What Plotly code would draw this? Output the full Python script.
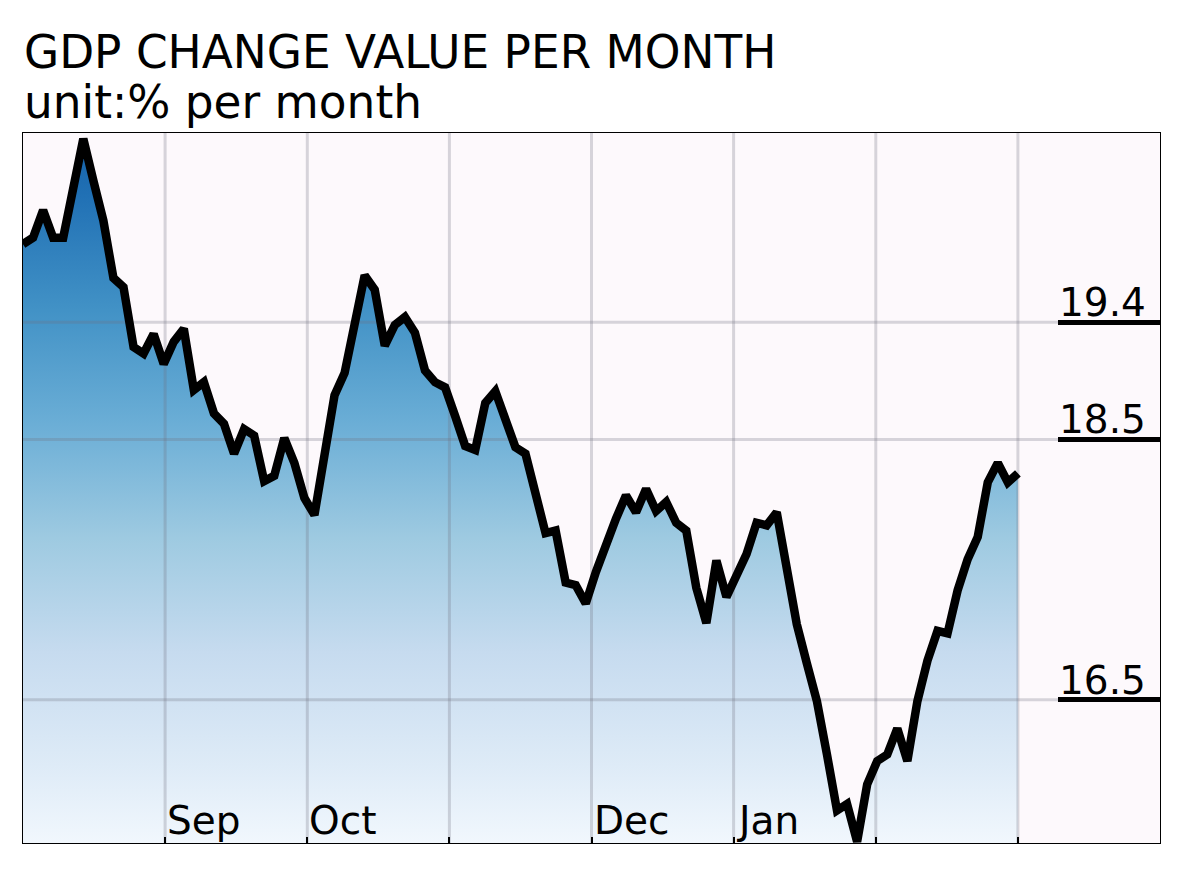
import plotly.graph_objects as go

# ---- data ----
values = [
    20.00, 20.05, 20.26, 20.05, 20.05, 20.44, 20.81, 20.49, 20.18, 19.74,
    19.67, 19.21, 19.16, 19.31, 19.08, 19.25, 19.35, 18.88, 18.94, 18.70,
    18.62, 18.39, 18.58, 18.53, 18.18, 18.22, 18.51, 18.32, 18.05, 17.92,
    18.42, 18.84, 19.01, 19.38, 19.76, 19.65, 19.22, 19.38, 19.44, 19.32,
    19.03, 18.94, 18.90, 18.68, 18.45, 18.42, 18.78, 18.87, 18.65, 18.44,
    18.39, 18.09, 17.78, 17.80, 17.40, 17.38, 17.24, 17.48, 17.71, 17.89,
    18.07, 17.94, 18.12, 17.95, 18.02, 17.86, 17.80, 17.36, 17.09, 17.57,
    17.29, 17.44, 17.62, 17.86, 17.84, 17.94, 17.51, 17.08, 16.78, 16.49,
    16.08, 15.65, 15.70, 15.41, 15.85, 16.03, 16.08, 16.28, 16.03, 16.49,
    16.80, 17.03, 17.01, 17.34, 17.58, 17.75, 18.17, 18.32, 18.17, 18.24,
]
x_index = list(range(len(values)))

x_tick_vals = [14.14, 28.29, 42.43, 56.57, 70.71, 84.86, 99.0]
x_tick_text = ["Sep", "Oct", "", "Dec", "Jan", "", ""]
y_tick_vals = [16.5, 18.5, 19.4]
y_tick_text = ["16.5", "18.5", "19.4"]

title_line1 = "GDP CHANGE VALUE PER MONTH"
title_line2 = "unit:% per month"

X_RANGE = [0, 113.14]
Y_RANGE = [15.4, 20.854]

FONT = "DejaVu Sans"

# gradient like matplotlib "Blues", light at bottom -> dark at top
blues_scale = [
    [0.0, "#f1f7fd"],
    [0.109, "#deebf7"],
    [0.269, "#c6dbef"],
    [0.429, "#9ecae1"],
    [0.590, "#6baed6"],
    [0.750, "#4292c6"],
    [0.910, "#2171b5"],
    [1.0, "#135fa7"],
]

fig = go.Figure()

# gradient area (no outline)
fig.add_trace(go.Scatter(
    x=x_index, y=values, mode="lines", line=dict(width=0, color="rgba(0,0,0,0)"),
    fill="tozeroy",
    fillgradient=dict(type="vertical", colorscale=blues_scale,
                      start=Y_RANGE[0], stop=Y_RANGE[1]),
    hoverinfo="skip", showlegend=False,
))

# grid lines drawn above the fill but beneath the black line
gx, gy = [], []
for t in x_tick_vals:
    gx += [t, t, None]
    gy += [Y_RANGE[0], Y_RANGE[1], None]
for v in y_tick_vals:
    gx += [X_RANGE[0], X_RANGE[1], None]
    gy += [v, v, None]
fig.add_trace(go.Scatter(
    x=gx, y=gy, mode="lines",
    line=dict(color="rgba(110,110,125,0.27)", width=3),
    hoverinfo="skip", showlegend=False,
))

# the black series line
fig.add_trace(go.Scatter(
    x=x_index, y=values, mode="lines",
    line=dict(color="black", width=8.5),
    showlegend=False,
))

annotations = [
    dict(text=title_line1, xref="paper", yref="paper", x=0, y=1,
         xanchor="left", yanchor="bottom", xshift=-1, yshift=52,
         showarrow=False, font=dict(family=FONT, size=45.4, color="black")),
    dict(text=title_line2, xref="paper", yref="paper", x=0, y=1,
         xanchor="left", yanchor="bottom", xshift=-1, yshift=2,
         showarrow=False, font=dict(family=FONT, size=45.4, color="black")),
]
for v, t in zip(x_tick_vals, x_tick_text):
    if t:
        annotations.append(dict(
            text=t, xref="x", yref="paper", x=v, y=0,
            xanchor="left", yanchor="bottom", xshift=0, yshift=-2,
            showarrow=False, font=dict(family=FONT, size=39, color="black")))
for v, t in zip(y_tick_vals, y_tick_text):
    annotations.append(dict(
        text=t, xref="paper", yref="y", x=1, y=v,
        xanchor="right", yanchor="bottom", xshift=-12, yshift=-5,
        showarrow=False, font=dict(family=FONT, size=39, color="black")))

fig.update_layout(
    width=1184, height=888,
    margin=dict(l=23, r=24, t=133, b=45),
    paper_bgcolor="white",
    plot_bgcolor="#fdf9fc",
    font=dict(family=FONT, color="black"),
    annotations=annotations,
    xaxis=dict(
        range=X_RANGE, showgrid=False, zeroline=False,
        tickvals=x_tick_vals, showticklabels=False,
        ticks="inside", ticklen=6, tickwidth=1.5, tickcolor="black",
        showline=True, mirror=True, linecolor="black", linewidth=1,
    ),
    yaxis=dict(
        range=Y_RANGE, side="right", showgrid=False, zeroline=False,
        tickvals=y_tick_vals, showticklabels=False,
        ticks="inside", ticklen=102, tickwidth=4.5, tickcolor="black",
        showline=True, mirror=True, linecolor="black", linewidth=1,
    ),
)

fig.write_html("out.html")
